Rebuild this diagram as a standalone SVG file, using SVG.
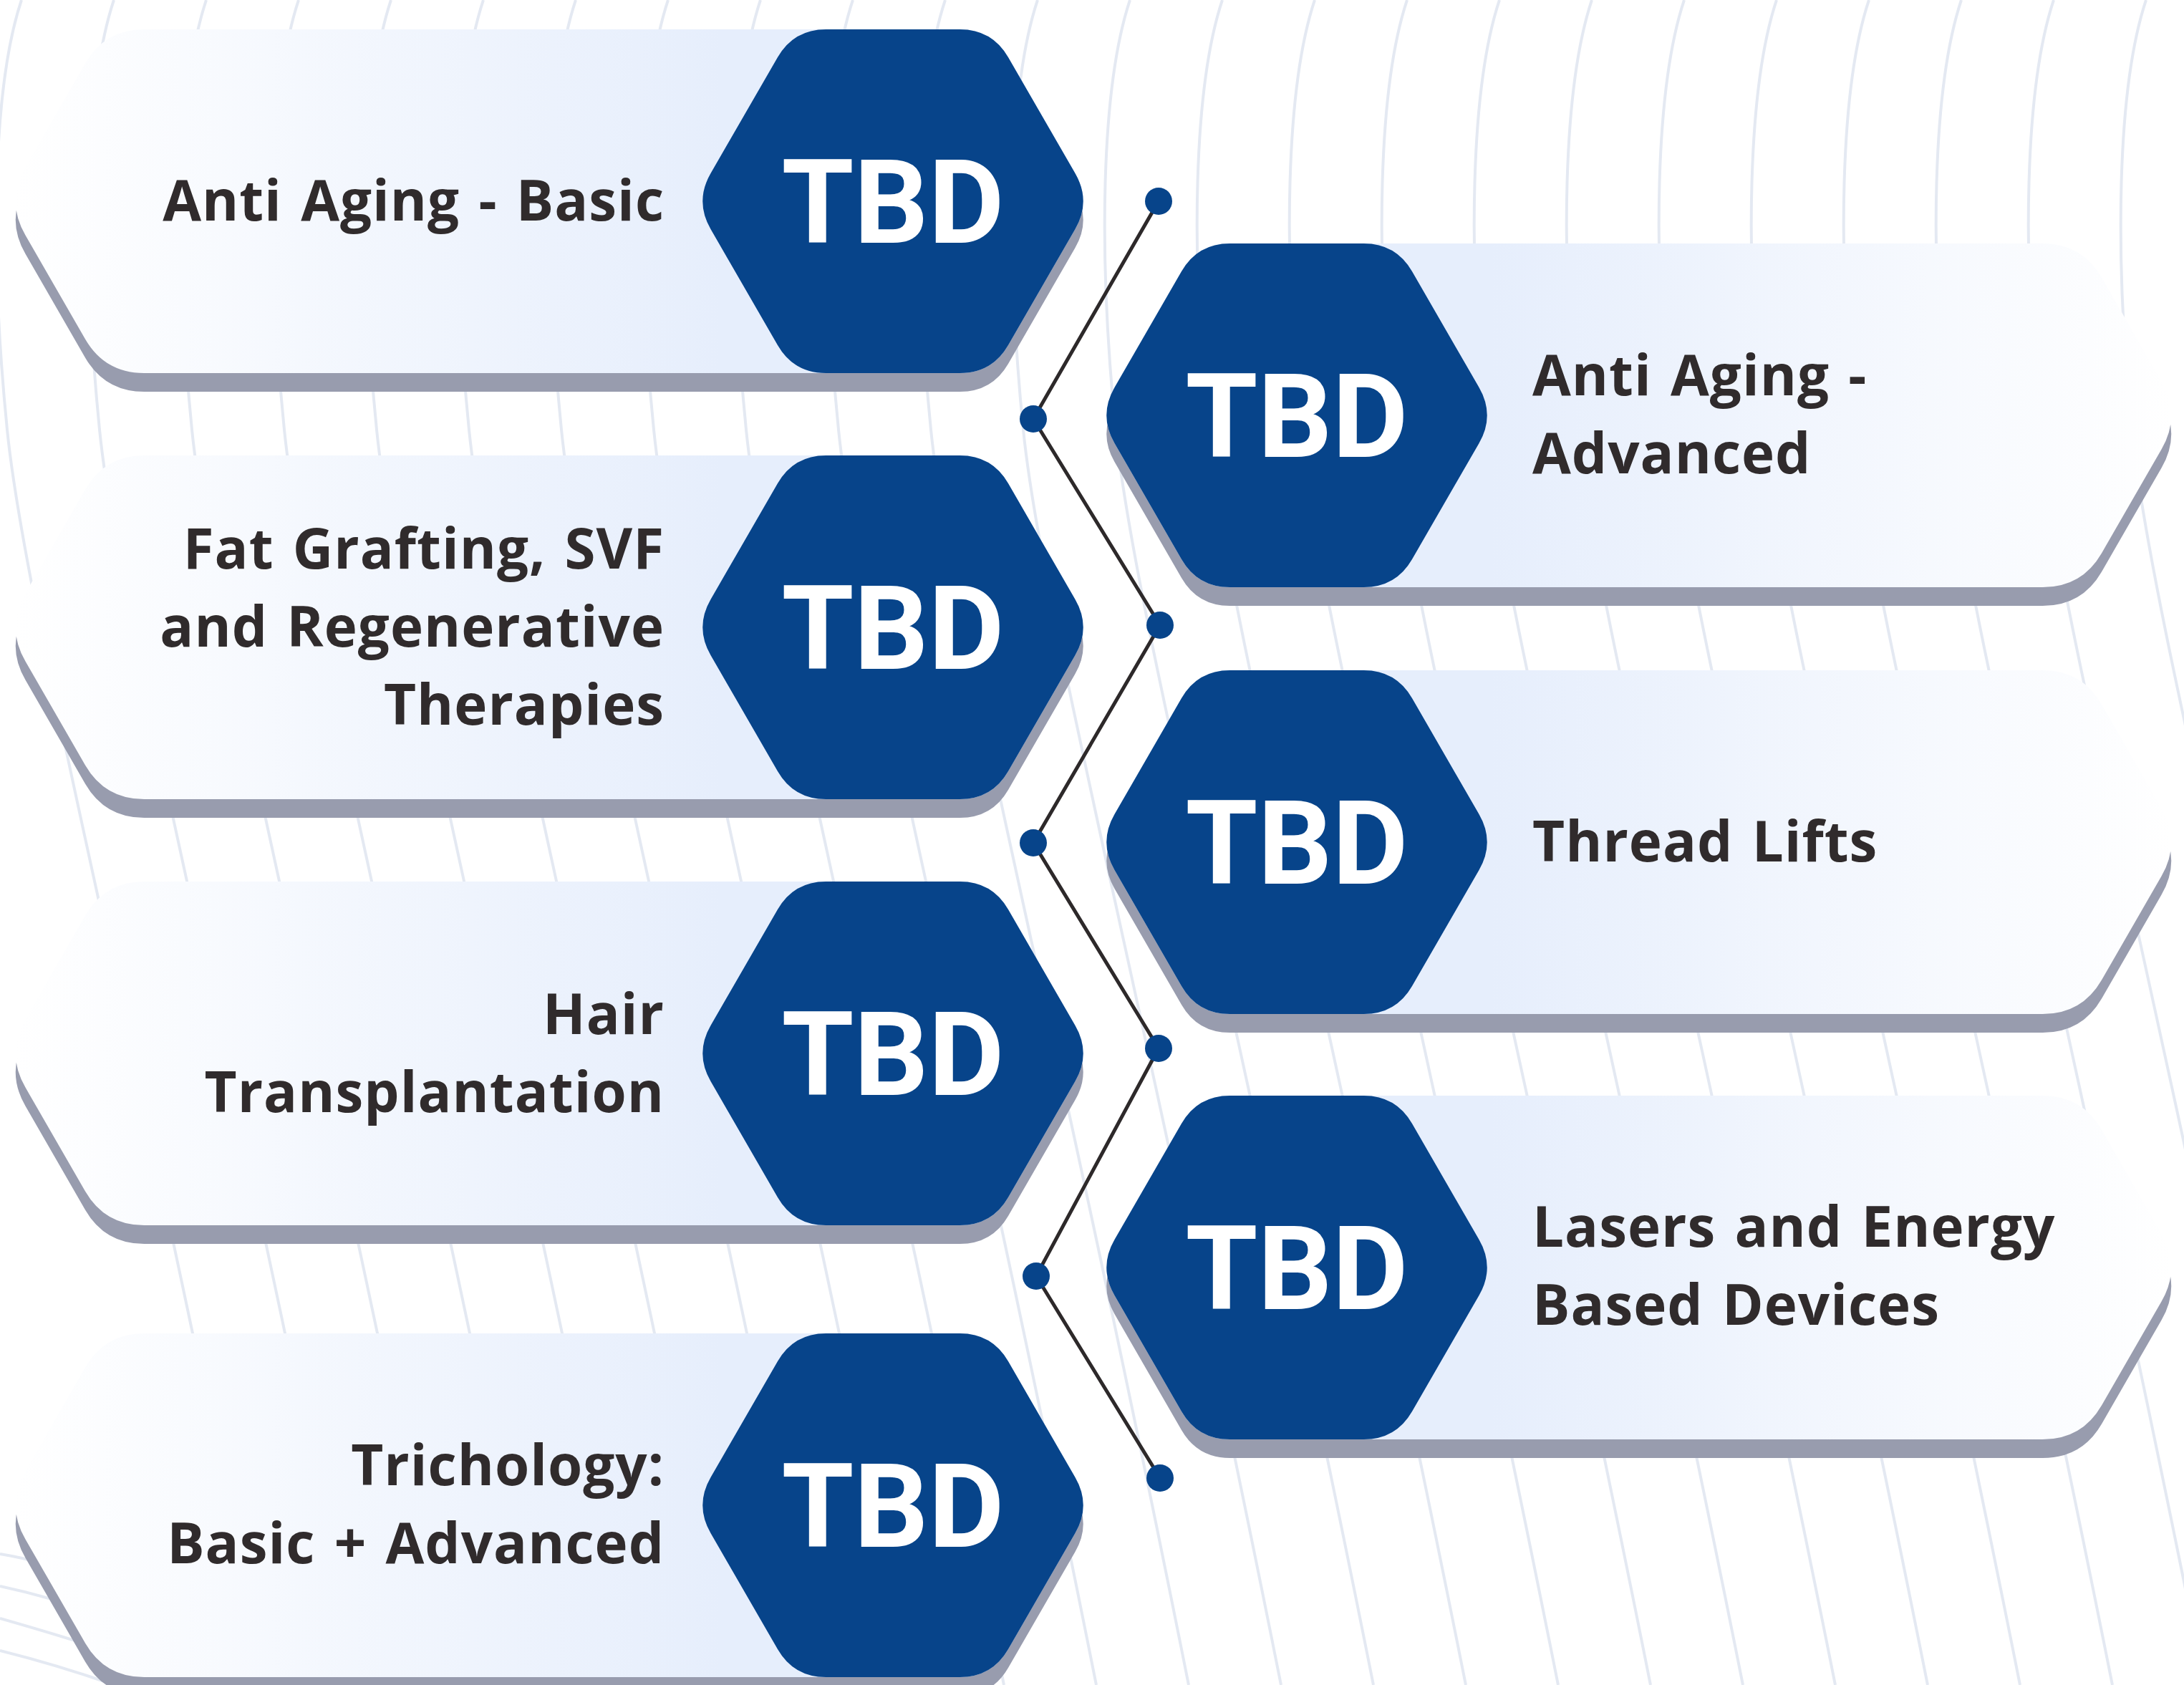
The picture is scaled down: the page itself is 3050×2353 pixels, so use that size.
<svg xmlns="http://www.w3.org/2000/svg" xmlns:xlink="http://www.w3.org/1999/xlink" width="3050" height="2353" viewBox="0 0 3050 2353">
<style>
.bg path { fill: none; stroke: #e4e9f2; stroke-width: 4; }
.shadow { fill: #989cae; }
.hex { fill: #07448a; }
.lbl { font-family: "Open Sans", "Liberation Sans", sans-serif; font-weight: 700; font-size: 78px; fill: #302b2c; word-spacing: 5px; letter-spacing: 1px; }
.end { text-anchor: end; }
.tbd { font-family: Roboto, "Liberation Sans", sans-serif; font-weight: 700; font-size: 163px; fill: #ffffff; text-anchor: middle; }
.conn { fill: none; stroke: #2d292a; stroke-width: 5; stroke-linejoin: round; }
.dot { fill: #07448a; }
</style>
<defs>
<linearGradient id="gL" x1="0" y1="0" x2="1" y2="0">
<stop offset="0" stop-color="#ffffff"/>
<stop offset="0.66" stop-color="#e6eefc"/>
<stop offset="1" stop-color="#e6eefc"/>
</linearGradient>
<linearGradient id="gR" x1="0" y1="0" x2="1" y2="0">
<stop offset="0" stop-color="#e6eefc"/>
<stop offset="0.36" stop-color="#e6eefc"/>
<stop offset="1" stop-color="#ffffff"/>
</linearGradient>
<path id="cardL" d="M35.5,-47.6 L119,-192.4 Q146.5,-240 201.5,-240 L1340.5,-240 Q1385.5,-240 1408,-201 L1501.5,-39 Q1524,0 1501.5,39 L1408,201 Q1385.5,240 1340.5,240 L201.5,240 Q146.5,240 119,192.4 L35.5,47.6 Q8,0 35.5,-47.6 Z"/>
<path id="cardR" d="M1556.5,-39 L1650,-201 Q1672.5,-240 1717.5,-240 L2852.5,-240 Q2907.5,-240 2935,-192.4 L3018.5,-47.6 Q3046,0 3018.5,47.6 L2935,192.4 Q2907.5,240 2852.5,240 L1717.5,240 Q1672.5,240 1650,201 L1556.5,39 Q1534,0 1556.5,-39 Z"/>
<path id="hexS" d="M-254.5,-39 L-161,-201 Q-138.5,-240 -93.5,-240 L93.5,-240 Q138.5,-240 161,-201 L254.5,-39 Q277,0 254.5,39 L161,201 Q138.5,240 93.5,240 L-93.5,240 Q-138.5,240 -161,201 L-254.5,39 Q-277,0 -254.5,-39 Z"/>
</defs>
<rect width="3050" height="2353" fill="#ffffff"/>
<g class="bg">
<path d="M30,0 C-10,120 -15,350 10,600 S180,1400 370,2353"/>
<path d="M159,0 C119,120 114,350 139,600 S309,1400 499,2353"/>
<path d="M288,0 C248,120 243,350 268,600 S438,1400 628,2353"/>
<path d="M417,0 C377,120 372,350 397,600 S567,1400 757,2353"/>
<path d="M546,0 C506,120 501,350 526,600 S696,1400 886,2353"/>
<path d="M675,0 C635,120 630,350 655,600 S825,1400 1015,2353"/>
<path d="M804,0 C764,120 759,350 784,600 S954,1400 1144,2353"/>
<path d="M933,0 C893,120 888,350 913,600 S1083,1400 1273,2353"/>
<path d="M1062,0 C1022,120 1017,350 1042,600 S1212,1400 1402,2353"/>
<path d="M1191,0 C1151,120 1146,350 1171,600 S1341,1400 1531,2353"/>
<path d="M1320,0 C1280,120 1275,350 1300,600 S1470,1400 1660,2353"/>
<path d="M1449,0 C1409,120 1404,350 1429,600 S1599,1400 1789,2353"/>
<path d="M1578,0 C1538,120 1533,350 1558,600 S1728,1400 1918,2353"/>
<path d="M1707,0 C1667,120 1662,350 1687,600 S1857,1400 2047,2353"/>
<path d="M1836,0 C1796,120 1791,350 1816,600 S1986,1400 2176,2353"/>
<path d="M1965,0 C1925,120 1920,350 1945,600 S2115,1400 2305,2353"/>
<path d="M2094,0 C2054,120 2049,350 2074,600 S2244,1400 2434,2353"/>
<path d="M2223,0 C2183,120 2178,350 2203,600 S2373,1400 2563,2353"/>
<path d="M2352,0 C2312,120 2307,350 2332,600 S2502,1400 2692,2353"/>
<path d="M2481,0 C2441,120 2436,350 2461,600 S2631,1400 2821,2353"/>
<path d="M2610,0 C2570,120 2565,350 2590,600 S2760,1400 2950,2353"/>
<path d="M2739,0 C2699,120 2694,350 2719,600 S2889,1400 3079,2353"/>
<path d="M2868,0 C2828,120 2823,350 2848,600 S3018,1400 3208,2353"/>
<path d="M2997,0 C2957,120 2952,350 2977,600 S3147,1400 3337,2353"/>
<path d="M0,2170 Q60,2180 130,2205"/>
<path d="M0,2215 Q70,2230 140,2255"/>
<path d="M0,2260 Q70,2280 150,2305"/>
<path d="M0,2305 Q80,2325 160,2353"/>
</g>
<g id="node-anti-aging-basic" transform="translate(0,281)">
<use xlink:href="#cardL" class="shadow" y="26"/>
<use xlink:href="#cardL" fill="url(#gL)"/>
<use xlink:href="#hexS" class="hex" x="1247"/>
<text class="tbd" x="1247" y="58">TBD</text>
<text class="lbl end" x="928" y="27">Anti Aging - Basic</text>
</g>
<g id="node-anti-aging-advanced" transform="translate(0,580)">
<use xlink:href="#cardR" class="shadow" y="26"/>
<use xlink:href="#cardR" fill="url(#gR)"/>
<use xlink:href="#hexS" class="hex" x="1811"/>
<text class="tbd" x="1811" y="58">TBD</text>
<text class="lbl" x="2140" y="-28">Anti Aging -</text>
<text class="lbl" x="2140" y="81">Advanced</text>
</g>
<g id="node-fat-grafting" transform="translate(0,876)">
<use xlink:href="#cardL" class="shadow" y="26"/>
<use xlink:href="#cardL" fill="url(#gL)"/>
<use xlink:href="#hexS" class="hex" x="1247"/>
<text class="tbd" x="1247" y="58">TBD</text>
<text class="lbl end" x="928" y="-82">Fat Grafting, SVF</text>
<text class="lbl end" x="928" y="27">and Regenerative</text>
<text class="lbl end" x="928" y="136">Therapies</text>
</g>
<g id="node-thread-lifts" transform="translate(0,1176)">
<use xlink:href="#cardR" class="shadow" y="26"/>
<use xlink:href="#cardR" fill="url(#gR)"/>
<use xlink:href="#hexS" class="hex" x="1811"/>
<text class="tbd" x="1811" y="58">TBD</text>
<text class="lbl" x="2140" y="27">Thread Lifts</text>
</g>
<g id="node-hair-transplantation" transform="translate(0,1471)">
<use xlink:href="#cardL" class="shadow" y="26"/>
<use xlink:href="#cardL" fill="url(#gL)"/>
<use xlink:href="#hexS" class="hex" x="1247"/>
<text class="tbd" x="1247" y="58">TBD</text>
<text class="lbl end" x="928" y="-27">Hair</text>
<text class="lbl end" x="928" y="82">Transplantation</text>
</g>
<g id="node-lasers" transform="translate(0,1770)">
<use xlink:href="#cardR" class="shadow" y="26"/>
<use xlink:href="#cardR" fill="url(#gR)"/>
<use xlink:href="#hexS" class="hex" x="1811"/>
<text class="tbd" x="1811" y="58">TBD</text>
<text class="lbl" x="2140" y="-29">Lasers and Energy</text>
<text class="lbl" x="2140" y="80">Based Devices</text>
</g>
<g id="node-trichology" transform="translate(0,2102)">
<use xlink:href="#cardL" class="shadow" y="26"/>
<use xlink:href="#cardL" fill="url(#gL)"/>
<use xlink:href="#hexS" class="hex" x="1247"/>
<text class="tbd" x="1247" y="58">TBD</text>
<text class="lbl end" x="928" y="-28">Trichology:</text>
<text class="lbl end" x="928" y="81">Basic + Advanced</text>
</g>
<g id="connectors">
<polyline class="conn" points="1618,281 1443,585 1620,873 1443,1177 1618,1464 1447,1782 1620,2064"/>
<circle class="dot" cx="1618" cy="281" r="19"/>
<circle class="dot" cx="1443" cy="585" r="19"/>
<circle class="dot" cx="1620" cy="873" r="19"/>
<circle class="dot" cx="1443" cy="1177" r="19"/>
<circle class="dot" cx="1618" cy="1464" r="19"/>
<circle class="dot" cx="1447" cy="1782" r="19"/>
<circle class="dot" cx="1620" cy="2064" r="19"/>
</g>
</svg>
